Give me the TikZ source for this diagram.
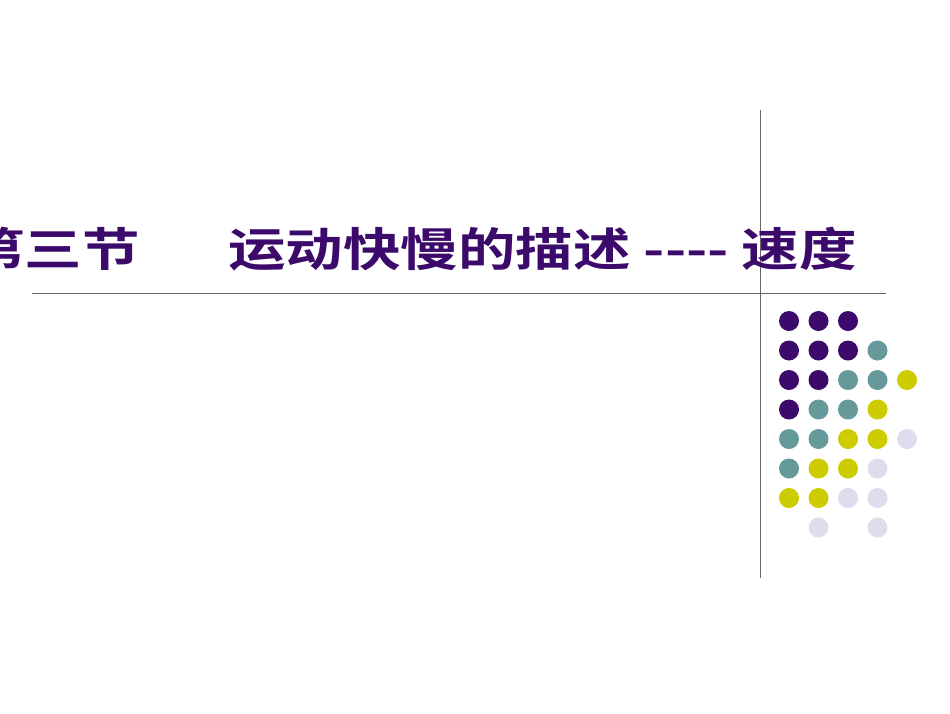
\documentclass[tikz,border=0pt]{standalone}
\usepackage{fontspec}
\newfontfamily\cjk{Noto Sans CJK SC}[BoldFont={Noto Sans CJK SC Bold}]
\definecolor{dpurple}{HTML}{3B0A6B}
\definecolor{dteal}{HTML}{669999}
\definecolor{dyellow}{HTML}{CCCC00}
\definecolor{dlav}{HTML}{DDDDEE}
\begin{document}
\begin{tikzpicture}[x=1pt,y=-1pt,
  titletext/.style={anchor=base west,inner sep=0pt,text=dpurple,xscale=1.25,font=\cjk\bfseries\fontsize{46}{50}\selectfont},
  dotP/.style={circle,fill=dpurple,minimum size=20pt,inner sep=0pt},
  dotT/.style={circle,fill=dteal,minimum size=20pt,inner sep=0pt},
  dotY/.style={circle,fill=dyellow,minimum size=20pt,inner sep=0pt},
  dotL/.style={circle,fill=dlav,minimum size=20pt,inner sep=0pt},
  rule/.style={draw=gray!80!black,line width=0.8pt}]
\path[use as bounding box,fill=white] (0,0) rectangle (950,713);
\coordinate (vt) at (760,110); \coordinate (vb) at (760,578);
\coordinate (hl) at (32,293); \coordinate (hr) at (886,293);
\draw[rule] (vt) -- (vb);
\draw[rule] (hl) -- (hr);
\node[titletext] (t1) at (-33,266) {第三节};
\node[titletext] (t2) at (228,266) {运动快慢的描述 ---- 速度};
\foreach \r/\row in {1/{P,P,P},2/{P,P,P,T},3/{P,P,T,T,Y},4/{P,T,T,Y},5/{T,T,Y,Y,L},6/{T,Y,Y,L},7/{Y,Y,L,L}}{
  \foreach \c [count=\i] in \row {
    \node[dot\c] (d\r\i) at ({789+29.5*(\i-1)},{321+29.5*(\r-1)}) {};
  }
}
\node[dotL] (d82) at (818.5,527.5) {};
\node[dotL] (d84) at (877.5,527.5) {};
\end{tikzpicture}
\end{document}
